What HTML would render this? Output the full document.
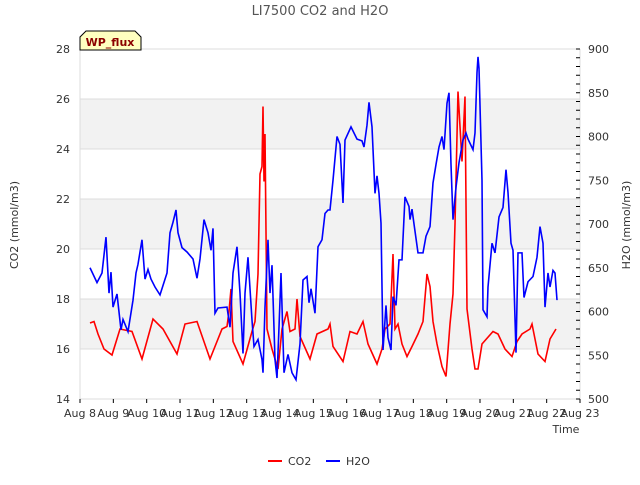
<!DOCTYPE html>
<html><head><meta charset="utf-8"><style>
body{margin:0;background:#fff;font-family:"Liberation Sans","DejaVu Sans",sans-serif;}
svg text{font-family:"DejaVu Sans","Liberation Sans",sans-serif;}
</style></head><body>
<svg id="chart" width="640" height="480" xmlns="http://www.w3.org/2000/svg">
<text x="320" y="15" text-anchor="middle" font-size="13" fill="#555">LI7500 CO2 and H2O</text>
<g id="bands"></g><g id="grid"></g>
<g id="axes"></g>
<g id="series"></g>
<g>
<path d="M80,50 L80,37 L86,31 L135,31 L141,37 L141,50 Z" fill="#ffffc0" stroke="#000" stroke-width="1"/>
<text x="110" y="46" text-anchor="middle" font-size="11" font-weight="bold" fill="#8b0000">WP_flux</text>
</g>
<text transform="translate(18,225) rotate(-90)" text-anchor="middle" font-size="11" fill="#333">CO2 (mmol/m3)</text>
<text transform="translate(630,225) rotate(-90)" text-anchor="middle" font-size="11" fill="#333">H2O (mmol/m3)</text>
<text x="566" y="433" text-anchor="middle" font-size="11" fill="#333">Time</text>
<g><line x1="268" y1="461" x2="282" y2="461" stroke="#f00" stroke-width="2"/><text x="288" y="465" font-size="11" fill="#333">CO2</text></g>
<g><line x1="326" y1="461" x2="340" y2="461" stroke="#00f" stroke-width="2"/><text x="346" y="465" font-size="11" fill="#333">H2O</text></g>
</svg>
<script>
const xLabels=["Aug 8","Aug 9","Aug 10","Aug 11","Aug 12","Aug 13","Aug 14","Aug 15","Aug 16","Aug 17","Aug 18","Aug 19","Aug 20","Aug 21","Aug 22","Aug 23"];
const leftTicks=[14,16,18,20,22,24,26,28];
const rightTicks=[500,550,600,650,700,750,800,850,900];
const co2Days=[0.30,0.42,0.54,0.72,0.96,1.20,1.56,1.86,2.19,2.49,2.91,3.15,3.51,3.90,4.26,4.41,4.47,4.53,4.59,4.89,5.16,5.25,5.34,5.40,5.46,5.49,5.52,5.55,5.61,5.76,5.94,6.06,6.21,6.30,6.45,6.51,6.60,6.90,7.11,7.44,7.50,7.59,7.89,8.10,8.31,8.49,8.64,8.91,9.06,9.15,9.30,9.39,9.45,9.54,9.66,9.81,9.96,10.14,10.29,10.41,10.50,10.59,10.71,10.86,10.98,11.10,11.19,11.25,11.34,11.46,11.55,11.61,11.76,11.85,11.94,12.06,12.39,12.54,12.75,12.96,13.11,13.26,13.50,13.56,13.74,13.95,14.10,14.28];
const co2Vals=[17.04,17.1,16.6,16.0,15.76,16.8,16.7,15.6,17.2,16.8,15.8,17.0,17.1,15.6,16.8,16.9,17.5,18.4,16.3,15.4,16.7,17.1,19.0,23.0,23.3,25.7,22.7,24.6,16.8,16.0,15.2,16.8,17.5,16.7,16.8,18.0,16.5,15.6,16.6,16.8,17.0,16.1,15.5,16.7,16.6,17.1,16.2,15.4,16.0,16.8,17.0,19.8,16.8,17.0,16.2,15.7,16.1,16.6,17.1,19.0,18.5,17.1,16.2,15.3,14.9,17.0,18.2,21.0,26.3,23.5,26.1,17.6,16.0,15.2,15.2,16.2,16.7,16.6,16.0,15.7,16.3,16.6,16.8,17.0,15.8,15.5,16.4,16.8];
const h2oDays=[0.30,0.51,0.66,0.78,0.87,0.93,0.99,1.11,1.23,1.29,1.44,1.59,1.68,1.74,1.86,1.95,2.04,2.13,2.25,2.40,2.61,2.70,2.79,2.88,2.94,3.06,3.21,3.39,3.51,3.60,3.72,3.84,3.93,3.99,4.05,4.14,4.41,4.50,4.59,4.71,4.80,4.89,4.95,5.04,5.16,5.22,5.34,5.46,5.49,5.55,5.64,5.70,5.76,5.85,5.91,5.97,6.03,6.12,6.24,6.36,6.48,6.60,6.69,6.81,6.87,6.93,7.05,7.14,7.26,7.35,7.44,7.50,7.59,7.71,7.80,7.89,7.95,8.13,8.31,8.46,8.52,8.61,8.67,8.76,8.85,8.91,8.97,9.03,9.09,9.18,9.24,9.33,9.39,9.48,9.57,9.66,9.75,9.87,9.90,9.96,10.02,10.14,10.29,10.38,10.50,10.59,10.68,10.77,10.86,10.92,11.01,11.07,11.13,11.19,11.28,11.37,11.49,11.58,11.64,11.79,11.85,11.91,11.94,11.97,12.06,12.09,12.21,12.24,12.36,12.45,12.57,12.69,12.78,12.84,12.93,12.99,13.08,13.14,13.26,13.32,13.44,13.59,13.71,13.80,13.89,13.95,14.04,14.10,14.19,14.25,14.31];
const h2oVals=[650,633,644,685,621,645,605,620,579,591,577,613,644,654,682,637,648,637,628,619,644,690,702,716,690,673,668,660,638,660,705,690,670,695,598,604,605,582,644,674,621,552,621,662,590,560,568,545,530,605,682,621,653,545,524,582,644,530,551,530,522,563,636,640,610,626,598,674,682,712,716,716,750,800,791,724,796,811,797,795,788,813,839,811,735,755,735,701,556,607,570,556,617,607,659,659,731,720,705,717,700,667,667,686,697,747,768,788,800,785,838,850,768,705,742,770,796,804,797,785,804,873,891,878,750,602,594,628,678,667,708,719,762,736,678,670,553,667,667,616,634,640,662,697,678,605,644,628,647,644,613];
const X0=80,X1=580,Y0=49,Y1=399;
const xs=d=>X0+d*(X1-X0)/15;
const yL=v=>Y1-(v-14)*(Y1-Y0)/14;
const yR=v=>Y1-(v-500)*(Y1-Y0)/400;
const NS="http://www.w3.org/2000/svg";
function mk(tag,attrs,parent){const e=document.createElementNS(NS,tag);for(const k in attrs)e.setAttribute(k,attrs[k]);document.getElementById(parent).appendChild(e);return e;}
[[16,18],[20,22],[24,26]].forEach(b=>{const r=mk('rect',{x:X0,y:yL(b[1]),width:X1-X0,height:yL(b[0])-yL(b[1]),fill:'#f2f2f2'},'bands');

});
leftTicks.forEach(v=>{const l=mk('line',{x1:X0,x2:X1,y1:yL(v),y2:yL(v),stroke:'#dcdcdc','stroke-width':1},'grid');


const t=mk('text',{x:X0-10,y:yL(v)+4,'text-anchor':'end','font-size':11,fill:'#333'},'axes');t.textContent=v;

});
mk('line',{x1:X0,x2:X0,y1:Y0,y2:Y1,stroke:'#dcdcdc'},'grid');
mk('line',{x1:X1,x2:X1,y1:Y0,y2:Y1,stroke:'#dcdcdc'},'grid');
rightTicks.forEach(v=>{const t=mk('text',{x:X1+8,y:yR(v)+4,'font-size':11,fill:'#333'},'axes');t.textContent=v;

});
for(let v=500;v<=900;v+=10){mk('line',{x1:X1-4,x2:X1,y1:yR(v),y2:yR(v),stroke:'#000'},'axes');}
xLabels.forEach((s,i)=>{mk('line',{x1:xs(i),x2:xs(i),y1:Y1,y2:Y1+4,stroke:'#000'},'axes');
const t=mk('text',{x:xs(i),y:Y1+18,'text-anchor':'middle','font-size':11,fill:'#333'},'axes');t.textContent=s;

});
const pc=mk('polyline',{points:co2Days.map((d,i)=>xs(d)+','+yL(co2Vals[i])).join(' '),fill:'none',stroke:'#f00','stroke-width':1.6},'series');


const ph=mk('polyline',{points:h2oDays.map((d,i)=>xs(d)+','+yR(h2oVals[i])).join(' '),fill:'none',stroke:'#00f','stroke-width':1.6},'series');


</script>
</body></html>
